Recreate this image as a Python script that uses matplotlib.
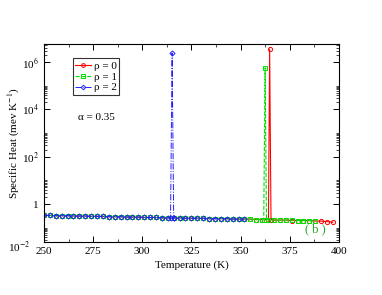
import matplotlib
matplotlib.use("Agg")
import matplotlib.pyplot as plt
from matplotlib.ticker import FixedLocator, NullFormatter

plt.rcParams['font.family'] = ['Liberation Serif', 'DejaVu Serif']
plt.rcParams['mathtext.fontset'] = 'stix'

# baseline grid (K)
t_grid = [250, 253, 256, 259, 262, 265, 268, 271, 274, 277,
          280, 283, 286, 289, 292, 295, 298, 301, 304, 307,
          310, 313, 316, 319, 322, 325, 328, 331, 334, 337,
          340, 343, 346, 349, 352, 355, 358, 361, 364, 367,
          370, 373, 376, 379, 382, 385, 388, 391, 394, 397]

c_rho0 = [0.33, 0.33, 0.32, 0.32, 0.32, 0.31, 0.31, 0.31, 0.30, 0.30,
          0.30, 0.29, 0.29, 0.29, 0.28, 0.28, 0.28, 0.27, 0.27, 0.27,
          0.26, 0.26, 0.26, 0.26, 0.25, 0.25, 0.25, 0.25, 0.24, 0.24,
          0.24, 0.24, 0.23, 0.23, 0.23, 0.23, 0.22, 0.22, 0.22, 0.21,
          0.21, 0.21, 0.20, 0.20, 0.20, 0.20, 0.19, 0.19, 0.18, 0.17]
c_rho1 = [0.33, 0.33, 0.32, 0.32, 0.32, 0.31, 0.31, 0.31, 0.30, 0.30,
          0.30, 0.29, 0.29, 0.29, 0.28, 0.28, 0.28, 0.27, 0.27, 0.27,
          0.26, 0.26, 0.26, 0.26, 0.25, 0.25, 0.25, 0.25, 0.24, 0.24,
          0.24, 0.24, 0.23, 0.23, 0.23, 0.23, 0.22, 0.22, 0.22, 0.21,
          0.21, 0.21, 0.21, 0.20, 0.20, 0.20, 0.20]
c_rho2 = [0.33, 0.33, 0.32, 0.32, 0.32, 0.31, 0.31, 0.31, 0.30, 0.30,
          0.30, 0.29, 0.29, 0.29, 0.28, 0.28, 0.28, 0.27, 0.27, 0.27,
          0.26, 0.26, 0.26, 0.26, 0.25, 0.25, 0.25, 0.25, 0.24, 0.24,
          0.24, 0.24, 0.23, 0.23, 0.23]

# transition spikes: (temperatures, values)
peak_rho0 = ([364.2, 364.8, 365.5], [0.22, 3.5e6, 0.22])
peak_rho1 = ([361.8, 362.5, 363.2], [0.22, 5.7e5, 0.22])
peak_rho2 = ([314.4, 315.2, 316.1], [0.26, 2.4e6, 0.26])


def merge(c, peak):
    pts = list(zip(t_grid[:len(c)], c)) + list(zip(peak[0], peak[1]))
    pts.sort()
    return [p[0] for p in pts], [p[1] for p in pts]


fig = plt.figure(figsize=(3.82, 2.95), dpi=100)
ax = fig.add_axes([0.115, 0.18, 0.772, 0.67])

t0, y0 = merge(c_rho0, peak_rho0)
t1, y1 = merge(c_rho1, peak_rho1)
t2, y2 = merge(c_rho2, peak_rho2)

ax.plot(t0, y0, '-', color='#ff0000', lw=0.8, marker='o', ms=3, mfc='none', mew=0.7, label='\u03c1 = 0')
ax.plot(t1, y1, '--', color='#00e000', lw=0.8, marker='s', ms=2.8, mfc='none', mew=0.7, label='\u03c1 = 1')
ax.plot(t2, y2, '-.', color='#2020ff', lw=0.7, marker='D', ms=2.6, mfc='none', mew=0.7, label='\u03c1 = 2')

ax.set_yscale('log')
ax.set_xlim(250, 400)
ax.set_ylim(10 ** -1.6, 10 ** 6.75)
ax.set_xticks([250, 275, 300, 325, 350, 375, 400])
ax.set_xticks([262.5, 287.5, 312.5, 337.5, 362.5, 387.5], minor=True)
ax.yaxis.set_major_locator(FixedLocator([1, 1e2, 1e4, 1e6]))
ax.set_yticklabels(['1', r'10$^{2}$', r'10$^{4}$', r'10$^{6}$'])
minor = [k * 100.0 ** n for n in range(-2, 4) for k in range(2, 11)]
ax.yaxis.set_minor_locator(FixedLocator(minor))
ax.yaxis.set_minor_formatter(NullFormatter())
ax.tick_params(which='both', direction='in', top=True, right=True, labelsize=8)
ax.tick_params(which='major', length=4, width=0.7)
ax.tick_params(which='minor', length=2, width=0.5)
for s in ax.spines.values():
    s.set_linewidth(0.8)

# bottom-corner y label, as in the original
ax.text(-0.045, -0.03, r'10$^{-2}$', transform=ax.transAxes, ha='right', va='center', fontsize=8)

ax.set_xlabel('Temperature (K)', fontsize=8, labelpad=3)
ax.set_ylabel(r'Specific Heat (mev K$^{-1}$)', fontsize=8, labelpad=0)

leg = ax.legend(loc='upper left', bbox_to_anchor=(0.097, 0.93), fontsize=8, frameon=True,
                fancybox=False, edgecolor='black', handlelength=1.4, borderpad=0.25,
                labelspacing=0.1, handletextpad=0.25, borderaxespad=0, markerscale=0.9)
leg.get_frame().set_linewidth(0.8)

ax.text(0.115, 0.63, '\u03b1 = 0.35', transform=ax.transAxes, fontsize=8, va='center')
ax.text(0.92, 0.05, '( b )', transform=ax.transAxes, fontsize=9, color='#22aa22', ha='center')

fig.savefig('out.png', dpi=100)
